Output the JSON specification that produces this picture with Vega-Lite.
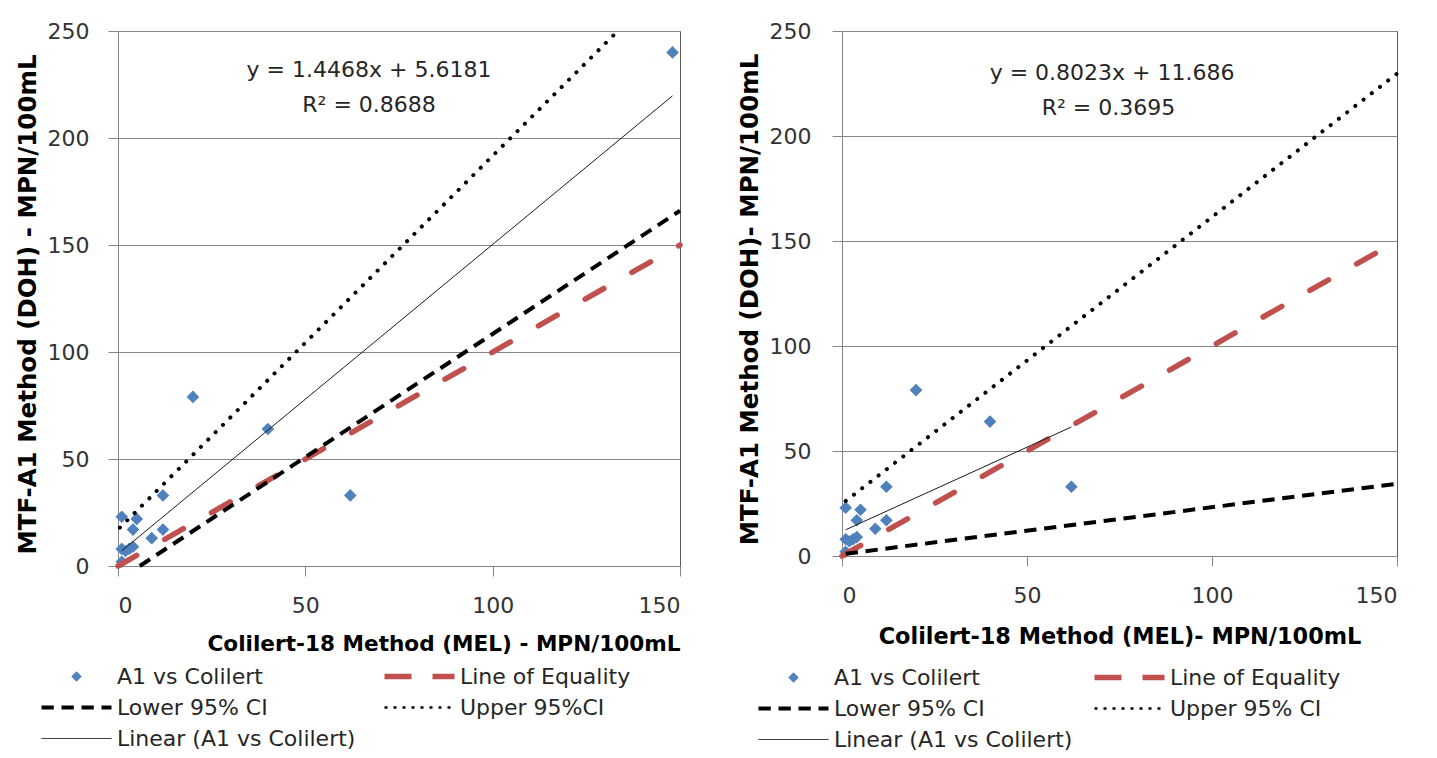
{
  "$schema": "https://vega.github.io/schema/vega-lite/v6.json",
  "background": "white",
  "padding": {"left": 14, "top": 19, "right": 5, "bottom": 5},
  "config": {
    "font": "DejaVu Sans",
    "view": {"stroke": "#595959", "strokeWidth": 1},
    "axis": {
      "gridColor": "#868686", "gridWidth": 1, "domainColor": "#868686", "tickColor": "#868686", "tickSize": 10,
      "labelFont": "DejaVu Sans", "labelFontSize": 22, "labelColor": "#333333", "labelPadding": 19,
      "titleFont": "DejaVu Sans", "titleFontWeight": "bold", "titleColor": "#000000"
    },
    "legend": {
      "labelFont": "DejaVu Sans", "labelFontSize": 22, "labelColor": "#262626", "labelOffset": 2, "labelLimit": 400,
      "symbolType": "stroke", "symbolSize": 4900, "symbolOpacity": 1, "clipHeight": 22,
      "rowPadding": 9, "columns": 2, "direction": "horizontal", "orient": "none", "title": null
    }
  },
  "datasets": {
    "pts_left": [
      {"series": "A1 vs Colilert", "x": 1, "y": 23},
      {"series": "A1 vs Colilert", "x": 5, "y": 22},
      {"series": "A1 vs Colilert", "x": 4, "y": 17},
      {"series": "A1 vs Colilert", "x": 12, "y": 33},
      {"series": "A1 vs Colilert", "x": 9, "y": 13},
      {"series": "A1 vs Colilert", "x": 12, "y": 17},
      {"series": "A1 vs Colilert", "x": 1, "y": 8},
      {"series": "A1 vs Colilert", "x": 2, "y": 7},
      {"series": "A1 vs Colilert", "x": 3, "y": 8},
      {"series": "A1 vs Colilert", "x": 4, "y": 9},
      {"series": "A1 vs Colilert", "x": 1, "y": 2},
      {"series": "A1 vs Colilert", "x": 20, "y": 79},
      {"series": "A1 vs Colilert", "x": 40, "y": 64},
      {"series": "A1 vs Colilert", "x": 62, "y": 33},
      {"series": "A1 vs Colilert", "x": 148, "y": 240}
    ],
    "pts_right": [
      {"series": "A1 vs Colilert", "x": 1, "y": 23},
      {"series": "A1 vs Colilert", "x": 5, "y": 22},
      {"series": "A1 vs Colilert", "x": 4, "y": 17},
      {"series": "A1 vs Colilert", "x": 12, "y": 33},
      {"series": "A1 vs Colilert", "x": 9, "y": 13},
      {"series": "A1 vs Colilert", "x": 12, "y": 17},
      {"series": "A1 vs Colilert", "x": 1, "y": 8},
      {"series": "A1 vs Colilert", "x": 2, "y": 7},
      {"series": "A1 vs Colilert", "x": 3, "y": 8},
      {"series": "A1 vs Colilert", "x": 4, "y": 9},
      {"series": "A1 vs Colilert", "x": 1, "y": 2},
      {"series": "A1 vs Colilert", "x": 20, "y": 79},
      {"series": "A1 vs Colilert", "x": 40, "y": 64},
      {"series": "A1 vs Colilert", "x": 62, "y": 33}
    ],
    "lines_left": [
      {"series": "Line of Equality", "x": 0, "y": 0},
      {"series": "Line of Equality", "x": 150, "y": 150},
      {"series": "Lower 95% CI", "x": 5.8, "y": 0},
      {"series": "Lower 95% CI", "x": 150, "y": 166},
      {"series": "Upper 95%CI", "x": 0.5, "y": 17.9},
      {"series": "Upper 95%CI", "x": 133.4, "y": 250},
      {"series": "Linear (A1 vs Colilert)", "x": 1, "y": 7.06},
      {"series": "Linear (A1 vs Colilert)", "x": 148, "y": 219.7}
    ],
    "lines_right": [
      {"series": "Line of Equality", "x": 0, "y": 0},
      {"series": "Line of Equality", "x": 150, "y": 150},
      {"series": "Lower 95% CI", "x": 1, "y": 1.1},
      {"series": "Lower 95% CI", "x": 150, "y": 34.4},
      {"series": "Upper 95% CI", "x": 1, "y": 26.2},
      {"series": "Upper 95% CI", "x": 150, "y": 229.7},
      {"series": "Linear (A1 vs Colilert)", "x": 1, "y": 12.49},
      {"series": "Linear (A1 vs Colilert)", "x": 62, "y": 61.43}
    ],
    "eq_left": [
      {"x": 67, "y": 228.5, "label": "y = 1.4468x + 5.6181"},
      {"x": 67, "y": 212.1, "label": "R² = 0.8688"}
    ],
    "eq_right": [
      {"x": 73, "y": 226.7, "label": "y = 0.8023x + 11.686"},
      {"x": 72, "y": 210, "label": "R² = 0.3695"}
    ]
  },
  "spacing": 162,
  "bounds": "flush",
  "resolve": {"scale": {"x": "independent", "y": "independent", "fill": "independent", "stroke": "independent", "shape": "independent", "strokeDash": "independent", "strokeWidth": "independent"}, "legend": {"fill": "independent", "stroke": "independent", "shape": "independent", "strokeDash": "independent", "strokeWidth": "independent"}},
  "hconcat": [
    {
      "width": 562,
      "height": 535,
      "encoding": {
        "x": {"field": "x", "type": "quantitative", "scale": {"domain": [0, 150], "nice": false, "zero": false},
              "axis": {"values": [0, 50, 100, 150], "grid": false, "titleFontSize": 21.6, "titleAnchor": "end", "titlePadding": 17},
              "title": "Colilert-18  Method (MEL) - MPN/100mL"},
        "y": {"field": "y", "type": "quantitative", "scale": {"domain": [0, 250], "nice": false, "zero": false},
              "axis": {"values": [0, 50, 100, 150, 200, 250], "grid": true, "titleFontSize": 24.5, "titlePadding": 7, "titleY": 273},
              "title": "MTF-A1 Method (DOH) - MPN/100mL"}
      },
      "layer": [
        {
          "data": {"name": "pts_left"},
          "mark": {"type": "point", "shape": "diamond", "filled": true, "size": 160, "opacity": 1, "color": "#4F81BD"}
        },
        {
          "data": {"name": "lines_left"},
          "transform": [{"filter": "datum.series === 'Line of Equality'"}],
          "mark": {"type": "line", "color": "#C0504D", "strokeWidth": 5.5, "strokeDash": [21.5, 32.3], "strokeCap": "round"}
        },
        {
          "data": {"name": "lines_left"},
          "transform": [{"filter": "datum.series === 'Lower 95% CI'"}],
          "mark": {"type": "line", "color": "#000000", "strokeWidth": 4, "strokeDash": [12.3, 7.7], "strokeCap": "butt"}
        },
        {
          "data": {"name": "lines_left"},
          "transform": [{"filter": "datum.series === 'Upper 95%CI'"}],
          "mark": {"type": "line", "color": "#000000", "strokeWidth": 4, "strokeDash": [0.1, 10.3], "strokeCap": "round"}
        },
        {
          "data": {"name": "lines_left"},
          "transform": [{"filter": "datum.series === 'Linear (A1 vs Colilert)'"}],
          "mark": {"type": "line", "color": "#1a1a1a", "strokeWidth": 1}
        },
        {
          "data": {"name": "eq_left"},
          "mark": {"type": "text", "font": "DejaVu Sans", "fontSize": 22, "color": "#262626", "align": "center", "baseline": "alphabetic"},
          "encoding": {"text": {"field": "label"}}
        },
        {
          "data": {"values": []},
          "mark": {"type": "point", "filled": true, "opacity": 1},
          "encoding": {
            "fill": {"field": "series", "type": "nominal",
              "scale": {"domain": ["A1 vs Colilert", "Line of Equality", "Lower 95% CI", "Upper 95%CI", "Linear (A1 vs Colilert)"],
                        "range": ["#4F81BD", "transparent", "transparent", "transparent", "transparent"]},
              "legend": {"legendX": -80, "legendY": 634.5, "columnPadding": 25}},
            "stroke": {"field": "series", "type": "nominal",
              "scale": {"domain": ["A1 vs Colilert", "Line of Equality", "Lower 95% CI", "Upper 95%CI", "Linear (A1 vs Colilert)"],
                        "range": ["transparent", "#C0504D", "#000000", "#000000", "#000000"]}},
            "shape": {"field": "series", "type": "nominal",
              "scale": {"domain": ["A1 vs Colilert", "Line of Equality", "Lower 95% CI", "Upper 95%CI", "Linear (A1 vs Colilert)"],
                        "range": ["M0,-0.15L0.15,0L0,0.15L-0.15,0Z", "stroke", "stroke", "stroke", "stroke"]}},
            "strokeDash": {"field": "series", "type": "nominal",
              "scale": {"domain": ["A1 vs Colilert", "Line of Equality", "Lower 95% CI", "Upper 95%CI", "Linear (A1 vs Colilert)"],
                        "range": [[1, 0], [27, 21], [12.3, 7.7], [3, 6], [1, 0]]}},
            "strokeWidth": {"field": "series", "type": "nominal",
              "scale": {"type": "point", "domain": ["A1 vs Colilert", "Line of Equality", "Lower 95% CI", "Upper 95%CI", "Linear (A1 vs Colilert)"],
                        "range": [7, 1], "padding": 0}}
          }
        }
      ]
    },
    {
      "width": 555,
      "height": 525,
      "encoding": {
        "x": {"field": "x", "type": "quantitative", "scale": {"domain": [0, 150], "nice": false, "zero": false},
              "axis": {"values": [0, 50, 100, 150], "grid": false, "titleFontSize": 22.4, "titlePadding": 19},
              "title": "Colilert-18 Method (MEL)- MPN/100mL"},
        "y": {"field": "y", "type": "quantitative", "scale": {"domain": [0, 250], "nice": false, "zero": false},
              "axis": {"values": [0, 50, 100, 150, 200, 250], "grid": true, "titleFontSize": 24.5, "titlePadding": 7, "labelPadding": 21, "titleY": 268},
              "title": "MTF-A1  Method (DOH)- MPN/100mL"}
      },
      "layer": [
        {
          "data": {"name": "pts_right"},
          "mark": {"type": "point", "shape": "diamond", "filled": true, "size": 160, "opacity": 1, "color": "#4F81BD"}
        },
        {
          "data": {"name": "lines_right"},
          "transform": [{"filter": "datum.series === 'Line of Equality'"}],
          "mark": {"type": "line", "color": "#C0504D", "strokeWidth": 5.5, "strokeDash": [21.5, 32.3], "strokeCap": "round"}
        },
        {
          "data": {"name": "lines_right"},
          "transform": [{"filter": "datum.series === 'Lower 95% CI'"}],
          "mark": {"type": "line", "color": "#000000", "strokeWidth": 4, "strokeDash": [12.3, 7.7], "strokeCap": "butt"}
        },
        {
          "data": {"name": "lines_right"},
          "transform": [{"filter": "datum.series === 'Upper 95% CI'"}],
          "mark": {"type": "line", "color": "#000000", "strokeWidth": 4, "strokeDash": [0.1, 10.3], "strokeCap": "round"}
        },
        {
          "data": {"name": "lines_right"},
          "transform": [{"filter": "datum.series === 'Linear (A1 vs Colilert)'"}],
          "mark": {"type": "line", "color": "#1a1a1a", "strokeWidth": 1}
        },
        {
          "data": {"name": "eq_right"},
          "mark": {"type": "text", "font": "DejaVu Sans", "fontSize": 22, "color": "#262626", "align": "center", "baseline": "alphabetic"},
          "encoding": {"text": {"field": "label"}}
        },
        {
          "data": {"values": []},
          "mark": {"type": "point", "filled": true, "opacity": 1},
          "encoding": {
            "fill": {"field": "series", "type": "nominal",
              "scale": {"domain": ["A1 vs Colilert", "Line of Equality", "Lower 95% CI", "Upper 95% CI", "Linear (A1 vs Colilert)"],
                        "range": ["#4F81BD", "transparent", "transparent", "transparent", "transparent"]},
              "legend": {"legendX": -87, "legendY": 635.5, "columnPadding": 18}},
            "stroke": {"field": "series", "type": "nominal",
              "scale": {"domain": ["A1 vs Colilert", "Line of Equality", "Lower 95% CI", "Upper 95% CI", "Linear (A1 vs Colilert)"],
                        "range": ["transparent", "#C0504D", "#000000", "#000000", "#000000"]}},
            "shape": {"field": "series", "type": "nominal",
              "scale": {"domain": ["A1 vs Colilert", "Line of Equality", "Lower 95% CI", "Upper 95% CI", "Linear (A1 vs Colilert)"],
                        "range": ["M0,-0.15L0.15,0L0,0.15L-0.15,0Z", "stroke", "stroke", "stroke", "stroke"]}},
            "strokeDash": {"field": "series", "type": "nominal",
              "scale": {"domain": ["A1 vs Colilert", "Line of Equality", "Lower 95% CI", "Upper 95% CI", "Linear (A1 vs Colilert)"],
                        "range": [[1, 0], [27, 21], [12.3, 7.7], [3, 6], [1, 0]]}},
            "strokeWidth": {"field": "series", "type": "nominal",
              "scale": {"type": "point", "domain": ["A1 vs Colilert", "Line of Equality", "Lower 95% CI", "Upper 95% CI", "Linear (A1 vs Colilert)"],
                        "range": [7, 1], "padding": 0}}
          }
        }
      ]
    }
  ]
}
